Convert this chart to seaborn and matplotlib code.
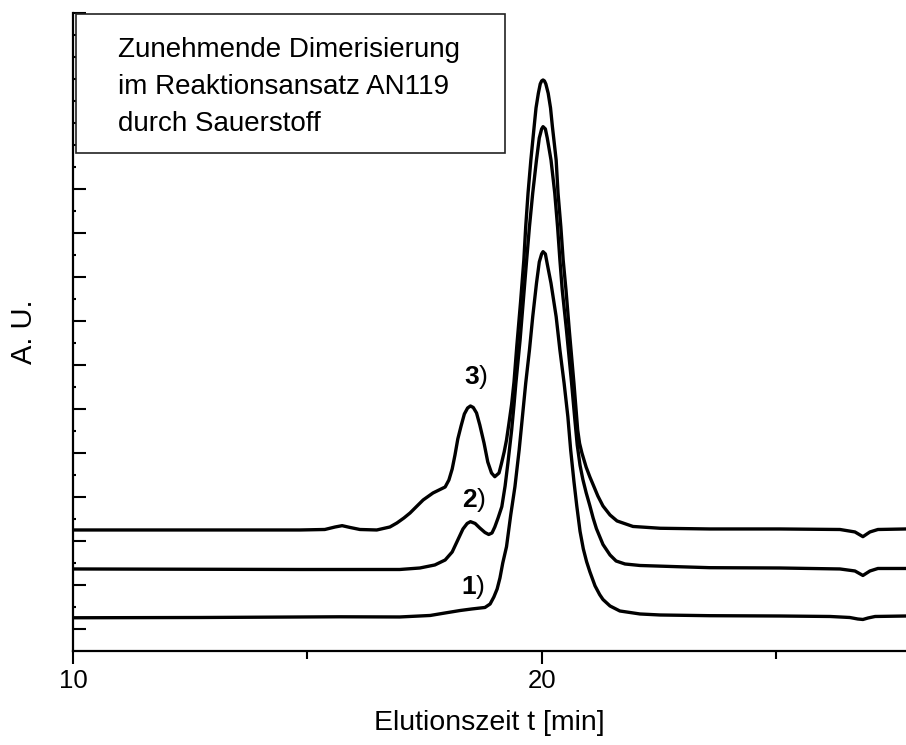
import numpy as np
import pandas as pd
import matplotlib
matplotlib.use("Agg")
import matplotlib.pyplot as plt
import seaborn as sns
from matplotlib.patches import Rectangle

# ---- data (t in min, signal in A.U.) ----
curve1_t = [10.00, 12.70, 15.69, 16.97, 17.62, 17.94, 18.26, 18.51, 18.79, 18.90, 18.98, 19.05,
            19.11, 19.17, 19.25, 19.34, 19.43, 19.52, 19.59, 19.66, 19.74, 19.81, 19.89, 19.95,
            20.00, 20.03, 20.08, 20.12, 20.20, 20.31, 20.39, 20.48, 20.56, 20.62, 20.69, 20.75,
            20.82, 20.89, 20.96, 21.03, 21.14, 21.24, 21.31, 21.46, 21.67, 22.10, 22.53, 23.59, 25.09,
            26.16, 26.58, 26.75, 26.86, 26.97, 27.12, 27.78]
curve1_au = [0.755, 0.761, 0.777, 0.773, 0.807, 0.864, 0.920, 0.955, 0.989, 1.068, 1.227, 1.409,
             1.659, 2.000, 2.370, 3.091, 3.734, 4.568, 5.325, 6.084, 6.841, 7.598, 8.357, 8.841,
             9.023, 9.075, 9.023, 8.795, 8.357, 7.598, 6.841, 6.084, 5.325, 4.568, 3.850, 3.300,
             2.720, 2.320, 2.030, 1.800, 1.480, 1.280, 1.170, 1.023, 0.909, 0.841, 0.818, 0.802, 0.795,
             0.784, 0.761, 0.727, 0.716, 0.750, 0.784, 0.795]

curve2_t = [10.00, 14.84, 16.97, 17.40, 17.72, 17.94, 18.09, 18.21, 18.32, 18.41, 18.48, 18.58,
            18.68, 18.79, 18.87, 18.94, 19.00, 19.07, 19.15, 19.22, 19.28, 19.36, 19.41, 19.45,
            19.54, 19.61, 19.68, 19.74, 19.81, 19.89, 19.95, 20.00, 20.03, 20.08, 20.12, 20.20,
            20.28, 20.34, 20.39, 20.44, 20.53, 20.64, 20.71, 20.76, 20.82, 20.88, 20.95, 21.03,
            21.10, 21.17, 21.31, 21.46, 21.59, 21.78, 22.10, 22.89, 23.59, 25.09, 26.37, 26.69,
            26.86, 27.01, 27.18, 27.78]
curve2_au = [1.864, 1.852, 1.852, 1.886, 1.955, 2.068, 2.250, 2.523, 2.773, 2.898, 2.939, 2.898,
             2.795, 2.693, 2.648, 2.682, 2.818, 3.023, 3.280, 3.750, 4.273, 5.023, 5.591, 6.084,
             7.068, 7.977, 8.886, 9.643, 10.409, 11.159, 11.659, 11.864, 11.916, 11.864, 11.659, 11.159,
             10.409, 9.643, 8.886, 8.205, 7.295, 6.084, 5.250, 4.682, 4.220, 3.900, 3.600, 3.300,
             3.020, 2.780, 2.420, 2.182, 2.045, 1.977, 1.943, 1.916, 1.893, 1.886, 1.864, 1.818,
             1.716, 1.818, 1.875, 1.875]

curve3_t = [10.00, 14.84, 15.37, 15.59, 15.74, 15.91, 16.12, 16.48, 16.76, 16.91, 17.06, 17.19,
            17.34, 17.47, 17.68, 17.94, 18.02, 18.09, 18.15, 18.21, 18.28, 18.35, 18.42, 18.48,
            18.54, 18.61, 18.68, 18.77, 18.85, 18.93, 19.00, 19.09, 19.14, 19.20, 19.25, 19.30,
            19.36, 19.41, 19.47, 19.55, 19.62, 19.66, 19.71, 19.77, 19.84, 19.88, 19.93, 19.97,
            20.00, 20.03, 20.06, 20.09, 20.14, 20.19, 20.23, 20.31, 20.35, 20.41, 20.46, 20.52,
            20.59, 20.69, 20.77, 20.81, 20.86, 20.95, 21.03, 21.12, 21.20, 21.31, 21.46, 21.61,
            21.95, 22.53, 23.59, 25.09, 26.37, 26.69, 26.86, 27.01, 27.18, 27.78]
curve3_au = [2.750, 2.750, 2.761, 2.818, 2.848, 2.807, 2.761, 2.750, 2.818, 2.909, 3.023, 3.136,
             3.295, 3.432, 3.591, 3.727, 3.886, 4.136, 4.455, 4.818, 5.114, 5.386, 5.523, 5.568,
             5.534, 5.409, 5.136, 4.727, 4.295, 4.045, 3.961, 4.045, 4.250, 4.523, 4.795, 5.159,
             5.614, 6.114, 6.932, 7.932, 8.886, 9.643, 10.409, 11.159, 11.916, 12.341, 12.675, 12.886,
             12.955, 12.977, 12.955, 12.886, 12.675, 12.341, 11.916, 11.159, 10.409, 9.643, 8.886, 8.205,
             7.295, 6.084, 5.023, 4.720, 4.500, 4.180, 3.955, 3.727, 3.523, 3.295, 3.091, 2.955,
             2.830, 2.789, 2.773, 2.773, 2.761, 2.705, 2.598, 2.705, 2.761, 2.773]

curve_names = ["1", "2", "3"]
label_t = [18.28, 18.29, 18.34]
label_au = [1.30, 3.27, 6.07]

x_major = [10, 20]
x_minor = [15, 25]

box_lines = ["Zunehmende Dimerisierung", "im Reaktionsansatz AN119", "durch Sauerstoff"]
x_label = "Elutionszeit t [min]"
y_label = "A. U."

# ---- build long table ----
frames = []
for name, t, a in zip(curve_names, [curve1_t, curve2_t, curve3_t],
                      [curve1_au, curve2_au, curve3_au]):
    frames.append(pd.DataFrame({"t": t, "au": a, "curve": name}))
df = pd.concat(frames, ignore_index=True)

# ---- style ----
sns.set_theme(style="ticks")
plt.rcParams["font.family"] = ["Liberation Sans", "DejaVu Sans"]
plt.rcParams["mathtext.fontset"] = "custom"
plt.rcParams["mathtext.bf"] = "Liberation Sans:bold"
plt.rcParams["mathtext.rm"] = "Liberation Sans"

fig = plt.figure(figsize=(9.06, 7.45), dpi=100)
ax = fig.add_axes([0.0809, 0.1262, 0.9191, 0.8564])

sns.lineplot(data=df, x="t", y="au", units="curve", estimator=None, sort=False,
             color="black", linewidth=2.4, ax=ax, legend=False,
             solid_joinstyle="round", solid_capstyle="round")

ax.set_xlim(10, 27.78)
ax.set_ylim(0, 14.5)

for s in ["top", "right"]:
    ax.spines[s].set_visible(False)
for s in ["left", "bottom"]:
    ax.spines[s].set_linewidth(1.6)
    ax.spines[s].set_color("black")

ax.set_xticks(x_major)
ax.set_xticks(x_minor, minor=True)
ax.set_xticklabels([str(v) for v in x_major])
ax.set_yticks(np.arange(0.5, 14.51, 1.0))
ax.set_yticks(np.arange(1.0, 14.5, 1.0), minor=True)
ax.set_yticklabels([])

ax.tick_params(axis="x", which="major", direction="out", length=9, width=1.5,
               labelsize=18.5, pad=4, color="black", labelcolor="black")
ax.tick_params(axis="x", which="minor", direction="out", length=6, width=1.5, color="black")
ax.tick_params(axis="y", which="major", direction="in", length=9.5, width=1.5, color="black")
ax.tick_params(axis="y", which="minor", direction="in", length=2.5, width=1.5, color="black")

ax.set_xlabel(x_label, fontsize=20.5, labelpad=12, color="black")
ax.set_ylabel(y_label, fontsize=21, labelpad=22, color="black")

# annotation box
ax.add_patch(Rectangle((0.003, 0.7806), 0.515, 0.2178, transform=ax.transAxes,
                       facecolor="white", edgecolor="#222222", linewidth=1.2, zorder=3))
for yy, line in zip([0.9315, 0.8726, 0.8150], box_lines):
    ax.text(0.0537, yy, line, transform=ax.transAxes, fontsize=20, va="baseline",
            ha="left", color="black", zorder=4)

for name, tx, ty in zip(curve_names, label_t, label_au):
    ax.text(tx, ty, r"$\mathbf{" + name + "}$)", fontsize=19, va="baseline",
            ha="left", color="black")

fig.savefig("out.png", dpi=100)
